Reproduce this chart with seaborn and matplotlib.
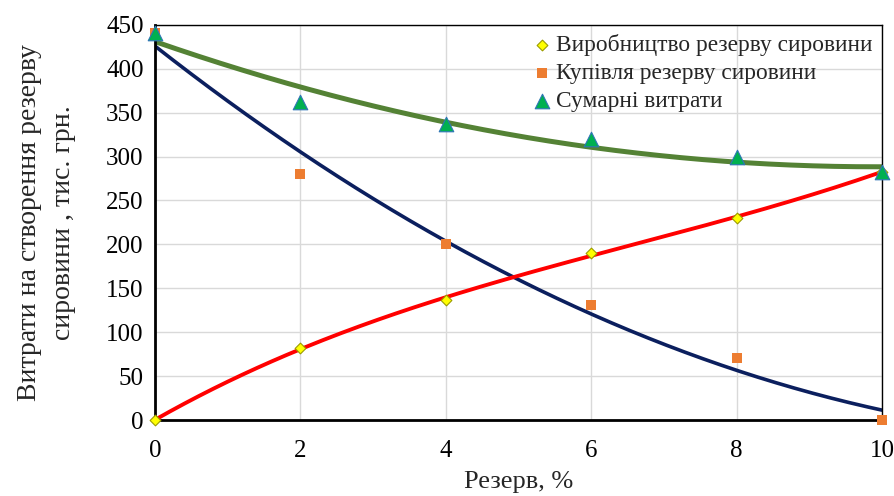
import numpy as np
import pandas as pd
import matplotlib
matplotlib.use('Agg')
import matplotlib.pyplot as plt
import seaborn as sns

# Values
reserve = [0, 2, 4, 6, 8, 10]
production = [0, 82, 137, 190, 230, 283]
purchase = [441, 280, 201, 131, 71, 0]
total = [441, 362, 337, 320, 300, 282]

labels = ['Виробництво резерву сировини', 'Купівля резерву сировини', 'Сумарні витрати']

sns.set_theme(style='white')
plt.rcParams['font.family'] = ['Liberation Serif', 'DejaVu Serif']

df = pd.DataFrame({'x': reserve, 'prod': production, 'buy': purchase, 'sum': total})

# polynomial trend lines (like the Excel trendlines)
xs = np.linspace(0, 10, 200)
trend = pd.DataFrame({'x': xs})
for col, deg in [('prod', 3), ('buy', 2), ('sum', 2)]:
    trend[col] = np.polyval(np.polyfit(df['x'], df[col], deg), xs)

fig = plt.figure(figsize=(8.95, 4.96), dpi=100)
ax = fig.add_axes([0.173, 0.153, 0.8125, 0.797])

sns.lineplot(data=trend, x='x', y='buy', color='#0b1f5e', lw=2.6, ax=ax)
sns.lineplot(data=trend, x='x', y='prod', color='#ff0000', lw=2.8, ax=ax)
sns.lineplot(data=trend, x='x', y='sum', color='#548235', lw=3.6, ax=ax)

sns.scatterplot(data=df, x='x', y='prod', marker='D', s=30, color='#ffff00',
                edgecolor='#9c9c00', linewidth=0.8, label=labels[0], zorder=5, clip_on=False, ax=ax)
sns.scatterplot(data=df, x='x', y='buy', marker='s', s=55, color='#ed7d31',
                edgecolor='#ed7d31', linewidth=0, label=labels[1], zorder=5, clip_on=False, ax=ax)
sns.scatterplot(data=df, x='x', y='sum', marker='^', s=110, color='#00b050',
                edgecolor='#2e75b6', linewidth=0.8, label=labels[2], zorder=6, clip_on=False, ax=ax)

ax.set_xlim(0, 10)
ax.set_ylim(0, 450)
ax.set_xticks(range(0, 11, 2))
ax.set_yticks(range(0, 451, 50))
ax.grid(True, color='#d9d9d9', lw=1)
ax.set_axisbelow(True)
for side in ['top', 'right']:
    ax.spines[side].set_color('black')
    ax.spines[side].set_linewidth(1)
for side in ['left', 'bottom']:
    ax.spines[side].set_color('black')
    ax.spines[side].set_linewidth(2)
ax.tick_params(axis='both', direction='out', length=5, width=1.5, labelsize=18, colors='black')
ax.tick_params(axis='x', pad=9)
ax.tick_params(axis='y', pad=3)

ax.set_xlabel('Резерв, %', fontsize=19, labelpad=7)
ax.set_ylabel('Витрати на створення резерву\nсировини , тис. грн.', fontsize=20,
              labelpad=22, linespacing=1.45)

ax.legend(loc='upper right', bbox_to_anchor=(1.0, 1.0), frameon=False, fontsize=16.8,
          handletextpad=0.1, borderaxespad=0.0, labelspacing=0.28, handlelength=1.0)

fig.savefig('out.png', dpi=100)
